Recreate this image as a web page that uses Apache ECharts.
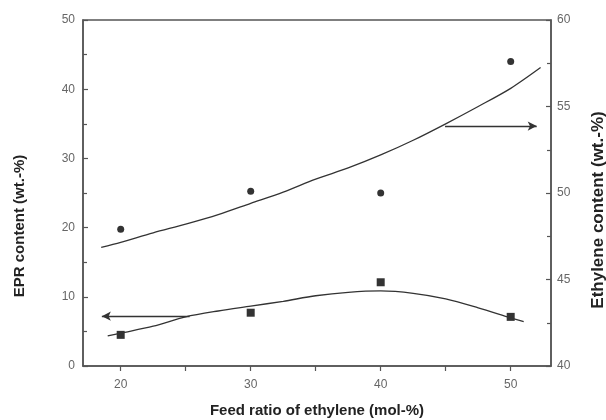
<!DOCTYPE html>
<html>
<head>
<meta charset="utf-8">
<script src="https://cdn.jsdelivr.net/npm/echarts@6/dist/echarts.min.js"></script>
<style>html,body{margin:0;padding:0;background:#fff}#c{width:606px;height:420px}</style>
</head>
<body>
<div id="c"></div>
<script>
// Measured data
var feedRatio = [20, 30, 40, 50];
var eprContent = [4.5, 7.7, 12.1, 7.1];
var ethyleneContent = [47.9, 50.1, 50.0, 57.6];

// Fitted curves
var ethFitX = [18.5, 20, 22.5, 25, 27.5, 30, 32.5, 35, 37.5, 40, 42.5, 45, 47.5, 50, 52.3];
var ethFitY = [46.85, 47.15, 47.7, 48.2, 48.75, 49.4, 50.05, 50.8, 51.45, 52.2, 53.05, 54.0, 55.0, 56.05, 57.25];
var eprFitX = [19, 20, 22.5, 25, 27.5, 30, 32.5, 35, 37.5, 40, 42.5, 45, 47.5, 50, 51];
var eprFitY = [4.35, 4.75, 5.75, 7.1, 7.95, 8.65, 9.35, 10.15, 10.65, 10.85, 10.5, 9.7, 8.4, 6.95, 6.4];

// Arrows (data units): [xStart, xEnd, y]
var arrowRight = [44.95, 52.0, 53.87];  // on right axis
var arrowLeft = [25.3, 18.55, 7.2];     // on left axis

// Axis ticks
var xTicks = [20, 25, 30, 35, 40, 45, 50];
var xLabels = [20, 30, 40, 50];

function zip(a, b) { return a.map(function (v, i) { return [v, b[i]]; }); }

var axisColor = '#555';
var labelColor = '#666';
var chart = echarts.init(document.getElementById('c'), null, {renderer: 'canvas'});
chart.setOption({
  animation: false,
  backgroundColor: '#fff',
  grid: {left: 83, right: 55, top: 20, bottom: 54, containLabel: false, outerBoundsMode: 'none',
         show: true, borderColor: axisColor, borderWidth: 1.5, backgroundColor: 'transparent'},
  xAxis: {
    type: 'value', min: 17.1, max: 53.1,
    name: 'Feed ratio of ethylene (mol-%)', nameLocation: 'middle', nameGap: 37,
    nameTextStyle: {fontFamily: 'Liberation Sans', fontWeight: 'bold', fontSize: 15, color: '#222'},
    axisLine: {lineStyle: {color: axisColor, width: 1.5}},
    axisTick: {show: true, inside: false, length: 5, customValues: xTicks, lineStyle: {color: axisColor, width: 1.2}},
    axisLabel: {customValues: xLabels, color: labelColor, fontFamily: 'Liberation Sans', fontSize: 12, margin: 13},
    splitLine: {show: false}
  },
  yAxis: [{
    type: 'value', min: 0, max: 50, interval: 10, position: 'left',
    name: 'EPR content (wt.-%)', nameLocation: 'middle', nameGap: 56, nameRotate: 90,
    nameTextStyle: {fontFamily: 'Liberation Sans', fontWeight: 'bold', fontSize: 15, color: '#222', padding: [0, 66, 0, 0]},
    axisLine: {show: true, lineStyle: {color: axisColor, width: 1.5}},
    axisTick: {show: true, inside: true, length: 5, lineStyle: {color: axisColor, width: 1.2}},
    minorTick: {show: true, splitNumber: 2, length: 4, lineStyle: {color: axisColor, width: 1.2}},
    axisLabel: {color: labelColor, fontFamily: 'Liberation Sans', fontSize: 12, margin: 8},
    splitLine: {show: false}
  }, {
    type: 'value', min: 40, max: 60, interval: 5, position: 'right',
    name: 'Ethylene content (wt.-%)', nameLocation: 'middle', nameGap: 39, nameRotate: 90,
    nameTextStyle: {fontFamily: 'Liberation Sans', fontWeight: 'bold', fontSize: 17, color: '#222', padding: [0, 34, 0, 0]},
    axisLine: {show: true, lineStyle: {color: axisColor, width: 1.5}},
    axisTick: {show: true, inside: true, length: 5, lineStyle: {color: axisColor, width: 1.2}},
    minorTick: {show: true, splitNumber: 2, length: 4, lineStyle: {color: axisColor, width: 1.2}},
    axisLabel: {color: labelColor, fontFamily: 'Liberation Sans', fontSize: 12, margin: 6},
    splitLine: {show: false}
  }],
  series: [{
    type: 'line', yAxisIndex: 1, data: zip(ethFitX, ethFitY), smooth: 0.3, showSymbol: false,
    lineStyle: {color: '#333', width: 1.3}, silent: true,
    markLine: {
      silent: true, symbol: ['none', 'arrow'], symbolSize: [7, 9], label: {show: false},
      lineStyle: {color: '#333', width: 1.3, type: 'solid'},
      data: [[{coord: [arrowRight[0], arrowRight[2]]}, {coord: [arrowRight[1], arrowRight[2]]}]]
    }
  }, {
    type: 'line', yAxisIndex: 0, data: zip(eprFitX, eprFitY), smooth: 0.3, showSymbol: false,
    lineStyle: {color: '#333', width: 1.3}, silent: true,
    markLine: {
      silent: true, symbol: ['none', 'arrow'], symbolSize: [7, 9], label: {show: false},
      lineStyle: {color: '#333', width: 1.3, type: 'solid'},
      data: [[{coord: [arrowLeft[0], arrowLeft[2]]}, {coord: [arrowLeft[1], arrowLeft[2]]}]]
    }
  }, {
    type: 'scatter', yAxisIndex: 1, data: zip(feedRatio, ethyleneContent),
    symbol: 'circle', symbolSize: 7, itemStyle: {color: '#000'}
  }, {
    type: 'scatter', yAxisIndex: 0, data: zip(feedRatio, eprContent),
    symbol: 'rect', symbolSize: 8, itemStyle: {color: '#000'}
  }]
});
</script>
</body>
</html>
